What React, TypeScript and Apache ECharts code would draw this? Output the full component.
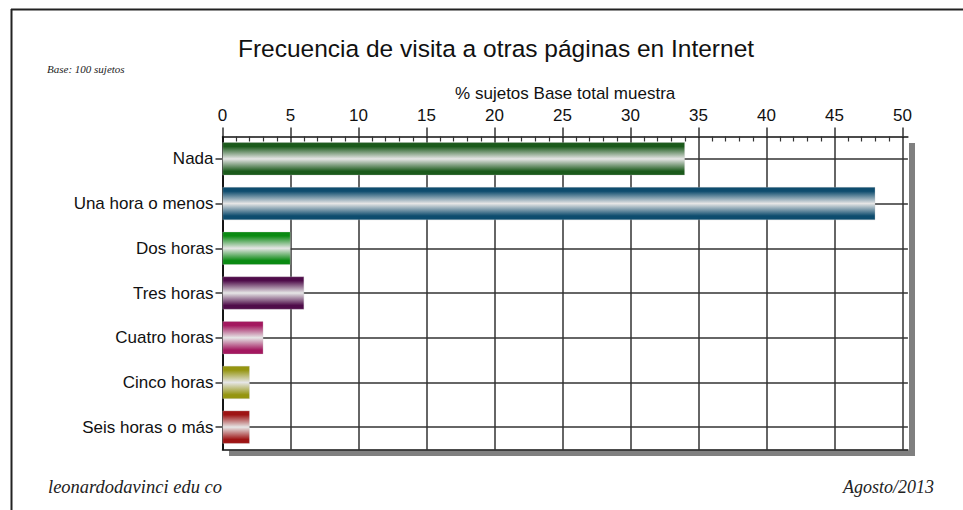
import React, { useEffect, useRef } from "react";
import * as echarts from "echarts";

const titleText = "Frecuencia de visita a otras páginas en Internet";
const baseNote = "Base: 100 sujetos";
const axisName = "% sujetos Base total muestra";
const footerLeft = "leonardodavinci edu co";
const footerRight = "Agosto/2013";

const categories = [
  "Nada",
  "Una hora o menos",
  "Dos horas",
  "Tres horas",
  "Cuatro horas",
  "Cinco horas",
  "Seis horas o más",
];
const values = [34, 48, 5, 6, 3, 2, 2];
const barColors = ["#1b5a1b", "#0d4c6e", "#0a8a12", "#4f0c4a", "#a3185f", "#959510", "#9e1414"];
const xTickValues = [0, 5, 10, 15, 20, 25, 30, 35, 40, 45, 50];

const gradientFor = (c: string) =>
  new echarts.graphic.LinearGradient(0, 0, 0, 1, [
    { offset: 0, color: c },
    { offset: 0.12, color: c },
    { offset: 0.5, color: "#e6e6e6" },
    { offset: 0.88, color: c },
    { offset: 1, color: c },
  ]);

export default function App() {
  const ref = useRef<HTMLDivElement>(null);
  useEffect(() => {
    if (!ref.current) return;
    const chart = echarts.init(ref.current, null, { renderer: "svg" });
    const left = 222.5;
    const plotW = 685.4; // 0..50.4
    const unit = plotW / 50.4;
    const right0 = 963 - (left + plotW);
    const right1 = 963 - (left + unit * 50);
    const top = 136.5;
    const bottom = 60.5;
    const font = "Arial, 'Liberation Sans', sans-serif";
    const serif = "'Times New Roman', 'Liberation Serif', serif";

    chart.setOption({
      animation: false,
      backgroundColor: "#ffffff",
      title: {
        text: titleText,
        left: 491,
        textAlign: "center",
        top: 31,
        textStyle: { fontFamily: font, fontSize: 24.5, fontWeight: "normal", color: "#111" },
      },
      grid: [
        { left, right: right0, top, bottom, containLabel: false },
        { left, right: right1, top, bottom, containLabel: false },
      ],
      xAxis: [
        {
          type: "value",
          gridIndex: 0,
          position: "top",
          min: 0,
          max: 50.4,
          interval: 5,
          name: axisName,
          nameLocation: "middle",
          nameGap: 30,
          nameTextStyle: { fontFamily: font, fontSize: 17, color: "#111" },
          axisLine: { show: true, lineStyle: { color: "#111", width: 1.5 } },
          axisTick: { show: true, customValues: xTickValues, length: 9, inside: false, lineStyle: { color: "#333", width: 1.5 } },
          axisLabel: {
            customValues: xTickValues,
            margin: 13,
            fontFamily: font,
            fontSize: 17,
            color: "#111",
          },
          splitLine: { show: true, lineStyle: { color: "#333", width: 1.5 } },
        },
        {
          type: "value",
          gridIndex: 1,
          position: "top",
          min: 0,
          max: 50,
          interval: 5,
          axisLine: { show: false },
          axisTick: { show: false, inside: true },
          axisLabel: { show: false },
          splitLine: { show: false },
          minorTick: { show: true, splitNumber: 5, length: 5, lineStyle: { color: "#333", width: 1.2 } },
        },
        {
          type: "value",
          gridIndex: 0,
          position: "bottom",
          min: 0,
          max: 50.4,
          interval: 5,
          axisLine: { show: true, lineStyle: { color: "#111", width: 1.5 } },
          axisTick: { show: false },
          axisLabel: { show: false },
          splitLine: { show: false },
        },
      ],
      yAxis: [
        {
          type: "category",
          gridIndex: 0,
          data: categories,
          inverse: true,
          axisLine: { show: true, lineStyle: { color: "#111", width: 1.5 } },
          axisTick: { show: true, alignWithLabel: true, length: 7, lineStyle: { color: "#333", width: 1.5 } },
          axisLabel: { margin: 9, fontFamily: font, fontSize: 17, color: "#111" },
          splitLine: { show: true, alignWithLabel: true, lineStyle: { color: "#333", width: 1.5 } },
        },
        {
          type: "category",
          gridIndex: 1,
          data: categories,
          inverse: true,
          show: false,
        },
        {
          type: "category",
          gridIndex: 0,
          position: "right",
          data: categories,
          inverse: true,
          axisLine: { show: true, lineStyle: { color: "#111", width: 1.5 } },
          axisTick: { show: false },
          axisLabel: { show: false },
          splitLine: { show: false },
        },
      ],
      series: [
        {
          type: "bar",
          xAxisIndex: 0,
          yAxisIndex: 0,
          barWidth: 33,
          z: 3,
          data: values.map((v, i) => ({
            value: v,
            itemStyle: { color: gradientFor(barColors[i]), borderColor: "rgba(200,200,200,0.6)", borderWidth: 0.5 },
          })),
        },
      ],
      graphic: [
        { type: "line", shape: { x1: 11, y1: 9.5, x2: 963, y2: 9.5 }, style: { stroke: "#222", lineWidth: 2 } },
        { type: "line", shape: { x1: 11.5, y1: 9, x2: 11.5, y2: 510 }, style: { stroke: "#222", lineWidth: 2 } },
        { type: "rect", shape: { x: 909, y: 143, width: 6, height: 313 }, style: { fill: "#808080" } },
        { type: "rect", shape: { x: 229, y: 450.5, width: 686, height: 5.5 }, style: { fill: "#808080" } },
        {
          type: "text",
          x: 47,
          y: 69,
          style: { text: baseNote, font: `italic 11px ${serif}`, fill: "#222", textVerticalAlign: "middle" },
        },
        {
          type: "text",
          x: 48,
          y: 487,
          style: { text: footerLeft, font: `italic 18.5px ${serif}`, fill: "#222", textVerticalAlign: "middle" },
        },
        {
          type: "text",
          x: 934,
          y: 487,
          style: { text: footerRight, font: `italic 18px ${serif}`, fill: "#222", textAlign: "right", textVerticalAlign: "middle" },
        },
      ],
    });
    return () => chart.dispose();
  }, []);
  return (
    <div
      ref={ref}
      style={{ position: "fixed", left: 0, top: 0, width: 963, height: 510, background: "#fff" }}
    />
  );
}
